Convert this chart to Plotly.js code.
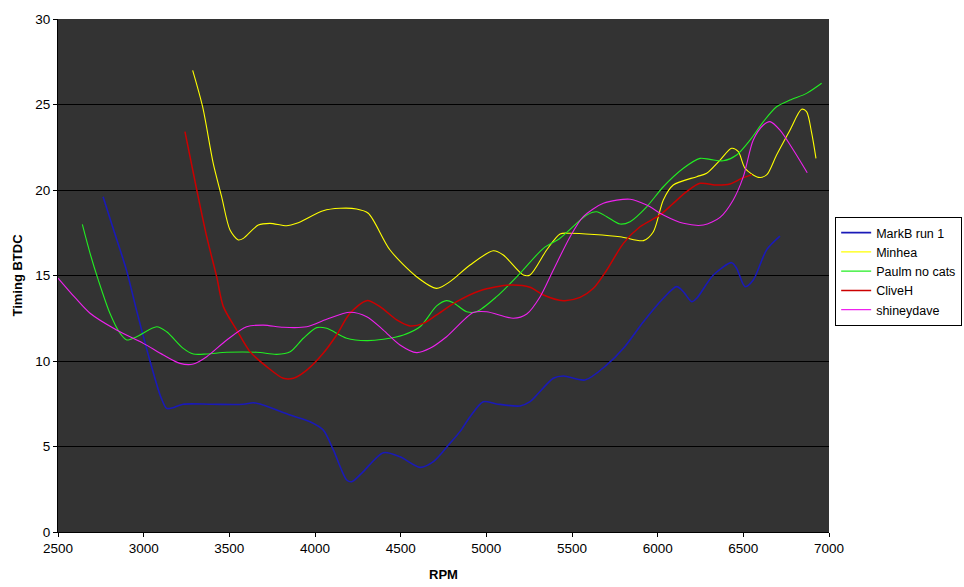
<!DOCTYPE html>
<html>
<head>
<meta charset="utf-8">
<script src="https://cdn.plot.ly/plotly-3.0.1.min.js"></script>
<style>html,body{margin:0;padding:0;background:#fff}#chart{width:964px;height:587px}</style>
</head>
<body>
<div id="chart"></div>
<script>
var seriesNames = ["MarkB run 1", "Minhea", "Paulm no cats", "CliveH", "shineydave"];

var markbRpm = [2763, 2830, 2900, 2960, 3037, 3100, 3134, 3171, 3230, 3400, 3580, 3640, 3697, 3855, 3971, 4048, 4107, 4185, 4214, 4272, 4399, 4496, 4613, 4691, 4788, 4846, 4905, 4982, 5060, 5197, 5255, 5391, 5450, 5576, 5703, 5800, 5917, 6033, 6111, 6150, 6199, 6228, 6325, 6432, 6461, 6510, 6558, 6636, 6714];
var markbVal = [19.6, 17.5, 15.3, 12.9, 10.0, 7.9, 7.23, 7.27, 7.47, 7.47, 7.47, 7.56, 7.43, 6.84, 6.45, 5.96, 4.8, 3.04, 2.94, 3.43, 4.64, 4.4, 3.78, 4.11, 5.19, 5.87, 6.74, 7.62, 7.49, 7.37, 7.62, 8.99, 9.12, 8.89, 9.77, 10.74, 12.3, 13.67, 14.35, 14.05, 13.47, 13.67, 15.03, 15.75, 15.42, 14.35, 14.74, 16.5, 17.3];

var minheaRpm = [3286, 3344, 3406, 3455, 3504, 3552, 3582, 3669, 3737, 3835, 3893, 4048, 4146, 4243, 4311, 4438, 4593, 4710, 4788, 4905, 5041, 5099, 5216, 5255, 5352, 5430, 5489, 5780, 5917, 5975, 6033, 6091, 6228, 6286, 6364, 6432, 6471, 6510, 6588, 6636, 6694, 6772, 6840, 6869, 6899, 6924];
var minheaVal = [27.0, 24.87, 21.56, 19.61, 17.66, 17.08, 17.17, 17.95, 18.05, 17.91, 18.05, 18.79, 18.93, 18.89, 18.64, 16.49, 14.93, 14.25, 14.64, 15.61, 16.45, 16.2, 15.03, 15.03, 16.49, 17.43, 17.47, 17.27, 17.04, 17.56, 19.42, 20.29, 20.78, 20.98, 21.75, 22.44, 22.24, 21.27, 20.74, 20.88, 22.05, 23.5, 24.72, 24.58, 23.32, 21.85];

var paulmRpm = [2642, 2690, 2735, 2803, 2862, 2901, 2959, 3076, 3134, 3231, 3290, 3368, 3485, 3660, 3777, 3855, 3932, 4010, 4068, 4185, 4302, 4399, 4516, 4613, 4710, 4768, 4807, 4885, 4943, 5060, 5197, 5333, 5430, 5586, 5644, 5703, 5780, 5839, 5936, 6033, 6150, 6247, 6305, 6383, 6461, 6539, 6617, 6694, 6772, 6869, 6957];
var paulmVal = [17.99, 16.2, 14.74, 12.79, 11.62, 11.23, 11.42, 12.0, 11.71, 10.74, 10.41, 10.41, 10.51, 10.51, 10.39, 10.54, 11.33, 11.95, 11.91, 11.33, 11.19, 11.27, 11.52, 12.0, 13.22, 13.53, 13.41, 12.88, 12.88, 13.76, 15.13, 16.59, 17.18, 18.54, 18.73, 18.44, 18.01, 18.15, 19.02, 20.19, 21.27, 21.85, 21.79, 21.71, 22.05, 22.92, 24.0, 24.87, 25.26, 25.65, 26.24];

var cliveRpm = [3241, 3310, 3368, 3426, 3465, 3543, 3621, 3718, 3815, 3874, 3952, 4048, 4126, 4204, 4302, 4379, 4477, 4554, 4632, 4710, 4827, 4963, 5138, 5255, 5333, 5450, 5547, 5625, 5703, 5800, 5897, 6014, 6091, 6169, 6247, 6344, 6422, 6490, 6550];
var cliveVal = [23.41, 20.0, 17.27, 14.93, 13.18, 11.81, 10.54, 9.67, 8.99, 8.99, 9.47, 10.45, 11.52, 12.79, 13.53, 13.18, 12.4, 12.05, 12.2, 12.7, 13.47, 14.11, 14.44, 14.31, 13.86, 13.53, 13.72, 14.25, 15.32, 16.88, 17.85, 18.54, 19.22, 19.9, 20.39, 20.29, 20.35, 20.68, 20.9];

var shineyRpm = [2500, 2600, 2687, 2842, 2998, 3115, 3212, 3290, 3368, 3485, 3601, 3699, 3815, 3952, 4068, 4204, 4302, 4399, 4496, 4593, 4671, 4768, 4924, 5002, 5158, 5236, 5314, 5391, 5489, 5566, 5683, 5839, 5936, 6033, 6150, 6267, 6364, 6441, 6500, 6558, 6617, 6656, 6714, 6792, 6873];
var shineyVal = [14.85, 13.7, 12.79, 11.81, 11.03, 10.35, 9.86, 9.82, 10.25, 11.23, 12.0, 12.1, 11.97, 12.0, 12.44, 12.85, 12.59, 11.81, 10.94, 10.49, 10.74, 11.42, 12.83, 12.88, 12.5, 12.75, 13.76, 15.32, 17.27, 18.44, 19.22, 19.46, 19.12, 18.54, 18.05, 17.95, 18.4, 19.42, 20.78, 22.92, 23.8, 24.0, 23.5, 22.34, 21.01];

var xTicks = [2500, 3000, 3500, 4000, 4500, 5000, 5500, 6000, 6500, 7000];
var yTicks = [0, 5, 10, 15, 20, 25, 30];

var colors = ["#1a1ab8", "#ffff00", "#22ee22", "#cc0000", "#ee22ee"];
var widths = [1.6, 1.1, 1.1, 1.5, 1.1];
var xs = [markbRpm, minheaRpm, paulmRpm, cliveRpm, shineyRpm];
var ys = [markbVal, minheaVal, paulmVal, cliveVal, shineyVal];

var traces = seriesNames.map(function(n, i){
  return {x: xs[i], y: ys[i], name: n, type: 'scatter', mode: 'lines',
    line: {color: colors[i], width: widths[i], shape: 'spline', smoothing: 0.8}};
});

var layout = {
  width: 964, height: 587,
  margin: {l: 58, r: 135, t: 19, b: 55, autoexpand: false},
  paper_bgcolor: '#ffffff',
  plot_bgcolor: '#333333',
  font: {family: 'Liberation Sans, Arial, sans-serif', size: 13.5, color: '#000'},
  xaxis: {
    range: [2500, 7000], tickvals: xTicks, ticktext: xTicks.map(String),
    showgrid: false, zeroline: false, showline: true, linecolor: '#000', linewidth: 1,
    ticks: 'outside', ticklen: 4, tickcolor: '#000',
    title: {text: '<b>RPM</b>', font: {size: 13}, standoff: 14}
  },
  yaxis: {
    range: [0, 30], tickvals: yTicks, ticktext: yTicks.map(String),
    showgrid: true, gridcolor: '#000000', gridwidth: 1, zeroline: false,
    showline: true, linecolor: '#000', linewidth: 1,
    ticks: 'outside', ticklen: 4, tickcolor: '#000',
    title: {text: '<b>Timing BTDC</b>', font: {size: 13}, standoff: 9}
  },
  showlegend: true,
  legend: {
    x: 1.008, xanchor: 'left', y: 0.614, yanchor: 'top',
    bgcolor: '#ffffff', bordercolor: '#000', borderwidth: 1,
    font: {size: 12.5}, itemwidth: 30, tracegroupgap: 0
  }
};

Plotly.newPlot('chart', traces, layout, {displayModeBar: false, staticPlot: true});
</script>
</body>
</html>
